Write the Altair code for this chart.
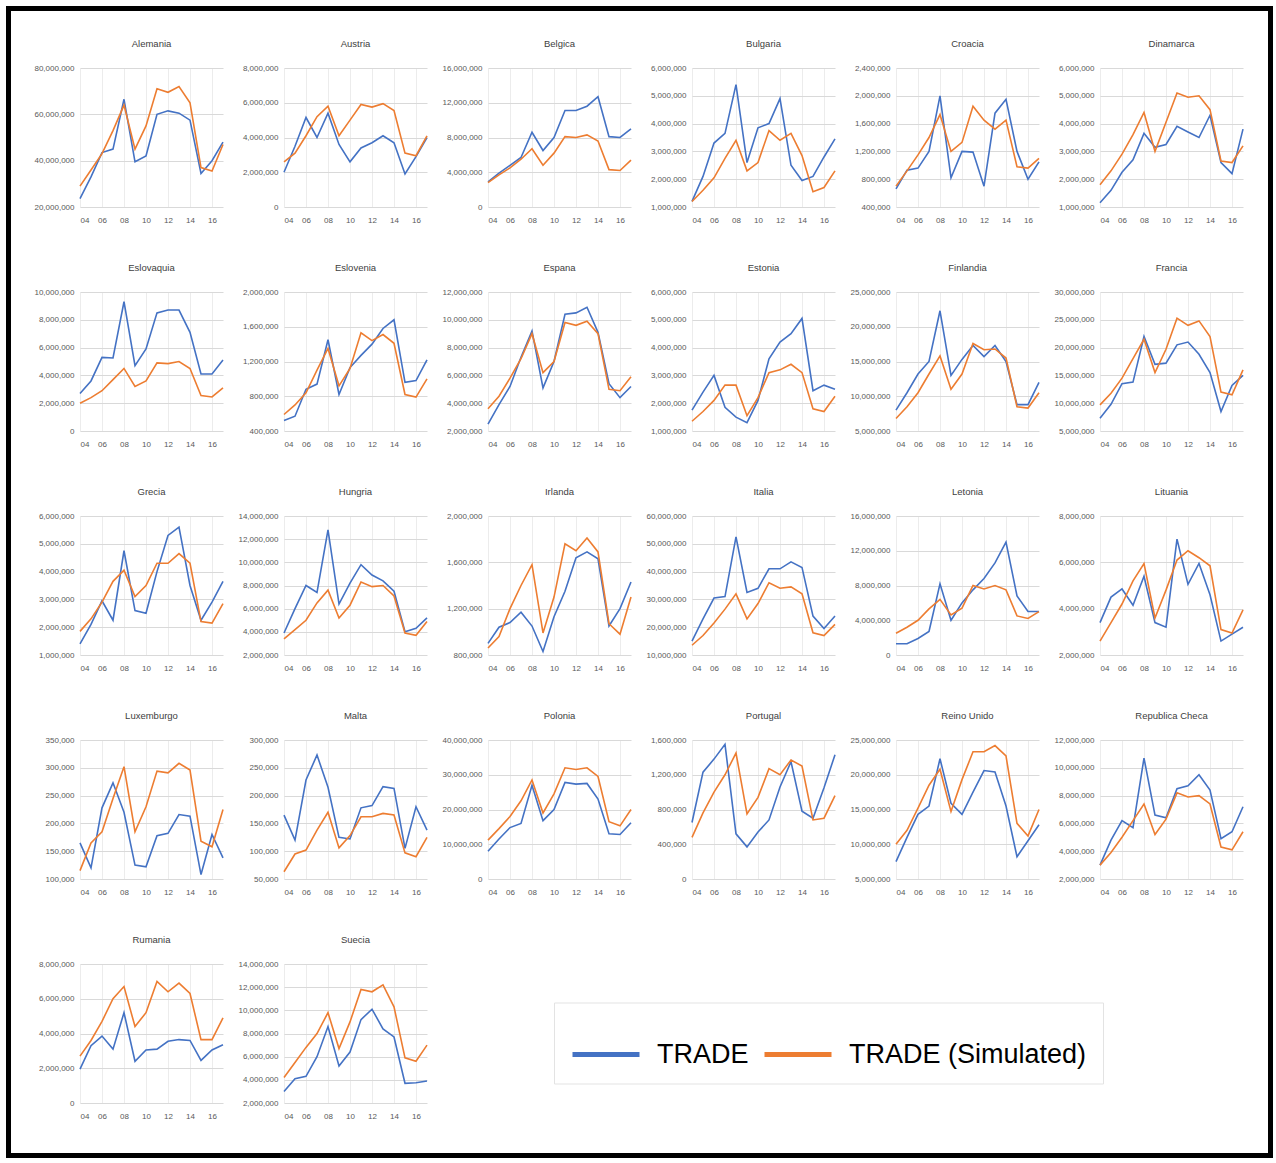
import altair as alt
import pandas as pd

# Years on the x axis (2004-2017) and the two series drawn in every panel
YEARS = list(range(2004, 2018))
SERIES = ["TRADE", "TRADE (Simulated)"]
COLORS = ["#4472C4", "#ED7D31"]
FONT = "Liberation Sans"

# Observed trade and simulated trade per country, 2004-2017
alemania_trade = [23.6e6, 33.0e6, 43.5e6, 45.0e6, 66.5e6, 39.5e6, 42.0e6, 60.0e6, 61.5e6, 60.5e6, 57.5e6, 34.5e6, 40.0e6, 48.0e6]
alemania_sim = [29.0e6, 36.0e6, 43.0e6, 53.0e6, 64.0e6, 45.0e6, 55.0e6, 71.0e6, 69.5e6, 72.0e6, 65.0e6, 37.0e6, 35.5e6, 47.0e6]
austria_trade = [2.0e6, 3.5e6, 5.15e6, 4.0e6, 5.4e6, 3.6e6, 2.6e6, 3.4e6, 3.7e6, 4.1e6, 3.7e6, 1.9e6, 2.9e6, 4.0e6]
austria_sim = [2.6e6, 3.1e6, 4.1e6, 5.2e6, 5.8e6, 4.1e6, 5.0e6, 5.9e6, 5.75e6, 5.95e6, 5.55e6, 3.1e6, 2.95e6, 4.1e6]
belgica_trade = [2.9e6, 3.9e6, 4.8e6, 5.7e6, 8.6e6, 6.5e6, 8.0e6, 11.1e6, 11.1e6, 11.6e6, 12.7e6, 8.1e6, 8.0e6, 9.0e6]
belgica_sim = [2.8e6, 3.7e6, 4.5e6, 5.5e6, 6.7e6, 4.8e6, 6.2e6, 8.1e6, 8.0e6, 8.3e6, 7.6e6, 4.3e6, 4.2e6, 5.4e6]
bulgaria_trade = [1.2e6, 2.1e6, 3.3e6, 3.65e6, 5.4e6, 2.6e6, 3.85e6, 4.0e6, 4.9e6, 2.5e6, 1.95e6, 2.1e6, 2.8e6, 3.45e6]
bulgaria_sim = [1.2e6, 1.6e6, 2.05e6, 2.75e6, 3.4e6, 2.3e6, 2.6e6, 3.75e6, 3.4e6, 3.65e6, 2.85e6, 1.55e6, 1.7e6, 2.3e6]
croacia_trade = [0.66e6, 0.93e6, 0.96e6, 1.2e6, 2.0e6, 0.82e6, 1.2e6, 1.19e6, 0.70e6, 1.75e6, 1.95e6, 1.2e6, 0.80e6, 1.05e6]
croacia_sim = [0.70e6, 0.92e6, 1.15e6, 1.4e6, 1.73e6, 1.2e6, 1.33e6, 1.85e6, 1.65e6, 1.52e6, 1.65e6, 0.98e6, 0.96e6, 1.1e6]
dinamarca_trade = [1.15e6, 1.6e6, 2.25e6, 2.7e6, 3.65e6, 3.15e6, 3.25e6, 3.9e6, 3.7e6, 3.5e6, 4.3e6, 2.6e6, 2.2e6, 3.8e6]
dinamarca_sim = [1.8e6, 2.3e6, 2.9e6, 3.6e6, 4.4e6, 3.0e6, 4.05e6, 5.1e6, 4.95e6, 5.0e6, 4.5e6, 2.65e6, 2.6e6, 3.2e6]
eslovaquia_trade = [2.7e6, 3.6e6, 5.3e6, 5.25e6, 9.3e6, 4.7e6, 5.9e6, 8.5e6, 8.7e6, 8.7e6, 7.1e6, 4.1e6, 4.1e6, 5.1e6]
eslovaquia_sim = [2.0e6, 2.4e6, 2.9e6, 3.7e6, 4.5e6, 3.2e6, 3.6e6, 4.9e6, 4.85e6, 5.0e6, 4.5e6, 2.55e6, 2.45e6, 3.1e6]
eslovenia_trade = [0.52e6, 0.57e6, 0.88e6, 0.94e6, 1.45e6, 0.82e6, 1.13e6, 1.27e6, 1.4e6, 1.58e6, 1.68e6, 0.96e6, 0.98e6, 1.22e6]
eslovenia_sim = [0.59e6, 0.70e6, 0.84e6, 1.1e6, 1.35e6, 0.92e6, 1.12e6, 1.53e6, 1.44e6, 1.51e6, 1.41e6, 0.82e6, 0.79e6, 1.0e6]
espana_trade = [2.5e6, 3.9e6, 5.2e6, 7.3e6, 9.2e6, 5.1e6, 7.0e6, 10.4e6, 10.5e6, 10.9e6, 9.1e6, 5.4e6, 4.4e6, 5.2e6]
espana_sim = [3.6e6, 4.5e6, 5.8e6, 7.2e6, 9.0e6, 6.2e6, 7.0e6, 9.8e6, 9.6e6, 9.9e6, 9.0e6, 5.0e6, 4.9e6, 5.9e6]
estonia_trade = [1.75e6, 2.4e6, 3.0e6, 1.85e6, 1.5e6, 1.3e6, 2.1e6, 3.6e6, 4.2e6, 4.5e6, 5.05e6, 2.45e6, 2.65e6, 2.5e6]
estonia_sim = [1.35e6, 1.7e6, 2.1e6, 2.65e6, 2.65e6, 1.55e6, 2.2e6, 3.1e6, 3.2e6, 3.4e6, 3.1e6, 1.8e6, 1.7e6, 2.25e6]
finlandia_trade = [8.0e6, 10.5e6, 13.2e6, 15.0e6, 22.3e6, 13.0e6, 15.3e6, 17.3e6, 15.7e6, 17.3e6, 15.0e6, 8.8e6, 8.8e6, 12.0e6]
finlandia_sim = [6.8e6, 8.5e6, 10.5e6, 13.2e6, 15.8e6, 11.0e6, 13.2e6, 17.6e6, 16.7e6, 16.8e6, 15.5e6, 8.5e6, 8.3e6, 10.5e6]
francia_trade = [7.3e6, 9.8e6, 13.5e6, 13.8e6, 22.0e6, 17.0e6, 17.2e6, 20.5e6, 21.0e6, 18.8e6, 15.5e6, 8.5e6, 13.2e6, 15.0e6]
francia_sim = [9.7e6, 11.8e6, 14.5e6, 18.0e6, 21.5e6, 15.5e6, 19.7e6, 25.3e6, 24.0e6, 24.8e6, 22.0e6, 12.0e6, 11.5e6, 16.0e6]
grecia_trade = [1.4e6, 2.1e6, 2.95e6, 2.25e6, 4.75e6, 2.6e6, 2.5e6, 4.0e6, 5.3e6, 5.6e6, 3.5e6, 2.25e6, 2.9e6, 3.65e6]
grecia_sim = [1.85e6, 2.3e6, 2.9e6, 3.65e6, 4.05e6, 3.1e6, 3.5e6, 4.3e6, 4.3e6, 4.65e6, 4.3e6, 2.2e6, 2.15e6, 2.85e6]
hungria_trade = [3.9e6, 6.0e6, 8.0e6, 7.4e6, 12.8e6, 6.4e6, 8.2e6, 9.8e6, 8.9e6, 8.4e6, 7.5e6, 4.0e6, 4.3e6, 5.2e6]
hungria_sim = [3.4e6, 4.2e6, 5.0e6, 6.5e6, 7.6e6, 5.2e6, 6.3e6, 8.3e6, 7.9e6, 8.0e6, 7.1e6, 3.9e6, 3.7e6, 4.9e6]
irlanda_trade = [0.90e6, 1.04e6, 1.08e6, 1.17e6, 1.05e6, 0.83e6, 1.13e6, 1.35e6, 1.64e6, 1.69e6, 1.63e6, 1.05e6, 1.2e6, 1.43e6]
irlanda_sim = [0.86e6, 0.96e6, 1.2e6, 1.4e6, 1.58e6, 0.99e6, 1.3e6, 1.76e6, 1.7e6, 1.81e6, 1.69e6, 1.07e6, 0.98e6, 1.3e6]
italia_trade = [15.0e6, 23.0e6, 30.5e6, 31.0e6, 52.5e6, 32.5e6, 34.0e6, 41.0e6, 41.0e6, 43.5e6, 41.5e6, 24.0e6, 19.5e6, 24.0e6]
italia_sim = [13.5e6, 17.0e6, 21.5e6, 26.5e6, 32.0e6, 23.0e6, 28.5e6, 36.0e6, 34.0e6, 34.5e6, 32.0e6, 18.0e6, 17.0e6, 21.0e6]
letonia_trade = [1.3e6, 1.3e6, 1.9e6, 2.7e6, 8.2e6, 4.0e6, 6.0e6, 7.5e6, 8.8e6, 10.6e6, 13.0e6, 6.8e6, 5.0e6, 5.0e6]
letonia_sim = [2.5e6, 3.2e6, 4.0e6, 5.3e6, 6.4e6, 4.6e6, 5.4e6, 8.0e6, 7.6e6, 8.0e6, 7.5e6, 4.5e6, 4.2e6, 5.0e6]
lituania_trade = [3.4e6, 4.5e6, 4.85e6, 4.15e6, 5.4e6, 3.4e6, 3.2e6, 7.0e6, 5.05e6, 5.95e6, 4.6e6, 2.6e6, 2.9e6, 3.2e6]
lituania_sim = [2.6e6, 3.4e6, 4.2e6, 5.2e6, 5.95e6, 3.6e6, 4.8e6, 6.1e6, 6.5e6, 6.2e6, 5.85e6, 3.1e6, 2.95e6, 3.95e6]
luxemburgo_trade = [165e3, 120e3, 228e3, 273e3, 220e3, 125e3, 122e3, 178e3, 182e3, 216e3, 213e3, 108e3, 180e3, 138e3]
luxemburgo_sim = [115e3, 165e3, 185e3, 245e3, 302e3, 185e3, 230e3, 294e3, 291e3, 308e3, 296e3, 168e3, 158e3, 225e3]
malta_trade = [165e3, 120e3, 228e3, 273e3, 215e3, 125e3, 122e3, 178e3, 182e3, 216e3, 213e3, 105e3, 180e3, 138e3]
malta_sim = [63e3, 95e3, 102e3, 138e3, 170e3, 106e3, 128e3, 162e3, 162e3, 168e3, 165e3, 97e3, 90e3, 125e3]
polonia_trade = [8.0e6, 11.5e6, 14.8e6, 16.0e6, 27.0e6, 16.8e6, 20.0e6, 27.8e6, 27.3e6, 27.5e6, 23.0e6, 13.0e6, 12.8e6, 16.2e6]
polonia_sim = [11.2e6, 14.5e6, 18.0e6, 22.5e6, 28.5e6, 19.0e6, 24.5e6, 32.0e6, 31.5e6, 32.0e6, 29.5e6, 16.5e6, 15.3e6, 20.0e6]
portugal_trade = [0.65e6, 1.23e6, 1.38e6, 1.55e6, 0.52e6, 0.37e6, 0.54e6, 0.68e6, 1.06e6, 1.35e6, 0.78e6, 0.70e6, 1.05e6, 1.43e6]
portugal_sim = [0.48e6, 0.76e6, 1.0e6, 1.2e6, 1.45e6, 0.75e6, 0.94e6, 1.27e6, 1.2e6, 1.37e6, 1.3e6, 0.68e6, 0.70e6, 0.96e6]
reino_unido_trade = [7.5e6, 11.0e6, 14.3e6, 15.5e6, 22.3e6, 15.9e6, 14.3e6, 17.5e6, 20.6e6, 20.4e6, 15.5e6, 8.2e6, 10.5e6, 12.8e6]
reino_unido_sim = [10.0e6, 12.0e6, 15.2e6, 18.5e6, 20.8e6, 14.7e6, 19.3e6, 23.3e6, 23.3e6, 24.2e6, 22.7e6, 13.0e6, 11.2e6, 15.0e6]
republica_checa_trade = [3.0e6, 4.8e6, 6.2e6, 5.7e6, 10.7e6, 6.6e6, 6.4e6, 8.5e6, 8.7e6, 9.5e6, 8.4e6, 4.9e6, 5.4e6, 7.2e6]
republica_checa_sim = [3.0e6, 3.9e6, 5.0e6, 6.2e6, 7.4e6, 5.2e6, 6.3e6, 8.2e6, 7.9e6, 8.0e6, 7.4e6, 4.3e6, 4.1e6, 5.4e6]
rumania_trade = [1.95e6, 3.3e6, 3.85e6, 3.1e6, 5.2e6, 2.4e6, 3.05e6, 3.1e6, 3.55e6, 3.65e6, 3.6e6, 2.45e6, 3.05e6, 3.35e6]
rumania_sim = [2.7e6, 3.6e6, 4.7e6, 6.0e6, 6.7e6, 4.4e6, 5.2e6, 7.0e6, 6.4e6, 6.9e6, 6.3e6, 3.65e6, 3.65e6, 4.9e6]
suecia_trade = [3.0e6, 4.1e6, 4.3e6, 6.0e6, 8.6e6, 5.2e6, 6.4e6, 9.2e6, 10.1e6, 8.4e6, 7.7e6, 3.7e6, 3.75e6, 3.9e6]
suecia_sim = [4.2e6, 5.5e6, 6.8e6, 8.0e6, 9.8e6, 6.7e6, 9.0e6, 11.8e6, 11.6e6, 12.2e6, 10.3e6, 5.9e6, 5.6e6, 7.0e6]

# Panel title, the two series and the y-axis tick range (first, last, step)
PANELS = [
    ("Alemania", alemania_trade, alemania_sim, (20e6, 80e6, 20e6)),
    ("Austria", austria_trade, austria_sim, (0, 8e6, 2e6)),
    ("Belgica", belgica_trade, belgica_sim, (0, 16e6, 4e6)),
    ("Bulgaria", bulgaria_trade, bulgaria_sim, (1e6, 6e6, 1e6)),
    ("Croacia", croacia_trade, croacia_sim, (400e3, 2.4e6, 400e3)),
    ("Dinamarca", dinamarca_trade, dinamarca_sim, (1e6, 6e6, 1e6)),
    ("Eslovaquia", eslovaquia_trade, eslovaquia_sim, (0, 10e6, 2e6)),
    ("Eslovenia", eslovenia_trade, eslovenia_sim, (400e3, 2e6, 400e3)),
    ("Espana", espana_trade, espana_sim, (2e6, 12e6, 2e6)),
    ("Estonia", estonia_trade, estonia_sim, (1e6, 6e6, 1e6)),
    ("Finlandia", finlandia_trade, finlandia_sim, (5e6, 25e6, 5e6)),
    ("Francia", francia_trade, francia_sim, (5e6, 30e6, 5e6)),
    ("Grecia", grecia_trade, grecia_sim, (1e6, 6e6, 1e6)),
    ("Hungria", hungria_trade, hungria_sim, (2e6, 14e6, 2e6)),
    ("Irlanda", irlanda_trade, irlanda_sim, (800e3, 2e6, 400e3)),
    ("Italia", italia_trade, italia_sim, (10e6, 60e6, 10e6)),
    ("Letonia", letonia_trade, letonia_sim, (0, 16e6, 4e6)),
    ("Lituania", lituania_trade, lituania_sim, (2e6, 8e6, 2e6)),
    ("Luxemburgo", luxemburgo_trade, luxemburgo_sim, (100e3, 350e3, 50e3)),
    ("Malta", malta_trade, malta_sim, (50e3, 300e3, 50e3)),
    ("Polonia", polonia_trade, polonia_sim, (0, 40e6, 10e6)),
    ("Portugal", portugal_trade, portugal_sim, (0, 1.6e6, 400e3)),
    ("Reino Unido", reino_unido_trade, reino_unido_sim, (5e6, 25e6, 5e6)),
    ("Republica Checa", republica_checa_trade, republica_checa_sim, (2e6, 12e6, 2e6)),
    ("Rumania", rumania_trade, rumania_sim, (0, 8e6, 2e6)),
    ("Suecia", suecia_trade, suecia_sim, (2e6, 14e6, 2e6)),
]

PANEL_W, PANEL_H = 143, 139
COL_GAP, ROW_GAP = 61, 85


def long_table(trade, sim):
    rows = []
    for name, vals in zip(SERIES, (trade, sim)):
        for year, v in zip(YEARS, vals):
            rows.append({"year": year, "value": v, "series": name})
    return pd.DataFrame(rows)


def tick_values(lo, hi, step):
    n = int(round((hi - lo) / step))
    return [lo + i * step for i in range(n + 1)]


def panel(name, trade, sim, ticks):
    lo, hi, step = ticks
    return alt.Chart(long_table(trade, sim)).mark_line(strokeWidth=1.6).encode(
        x=alt.X(
            "year:Q",
            scale=alt.Scale(domain=[YEARS[0], YEARS[-1]], nice=False, zero=False),
            axis=alt.Axis(
                values=YEARS[:-1:2],
                labelExpr="substring(toString(datum.value), 2)",
                title=None,
            ),
        ),
        y=alt.Y(
            "value:Q",
            scale=alt.Scale(domain=[lo, hi], nice=False, zero=False),
            axis=alt.Axis(values=tick_values(lo, hi, step), format=",.0f", title=None),
        ),
        color=alt.Color(
            "series:N",
            scale=alt.Scale(domain=SERIES, range=COLORS),
            legend=alt.Legend(title=None),
        ),
    ).properties(
        width=PANEL_W,
        height=PANEL_H,
        title=alt.TitleParams(name, frame="group", anchor="middle"),
    )


panels = [panel(*p) for p in PANELS]

# Black frame around the whole figure, held by an empty cell next to the
# last panel (row 5, column 3); offsets are relative to that cell's origin
cell_x = 2 * (PANEL_W + COL_GAP)
cell_y = 4 * (PANEL_H + ROW_GAP)
frame = alt.Chart(alt.Data(values=[{"frame": 1}])).mark_rect(
    filled=False, stroke="black", strokeWidth=5
).encode(
    x=alt.value(-71.5 - cell_x), x2=alt.value(1190.5 - cell_x),
    y=alt.value(-59.5 - cell_y), y2=alt.value(1087.5 - cell_y),
).properties(width=PANEL_W, height=PANEL_H)

chart = alt.concat(
    *panels,
    frame,
    columns=6,
    spacing=alt.RowColnumber(row=ROW_GAP, column=COL_GAP),
    bounds="flush",
).resolve_scale(
    x="independent", y="independent"
).properties(
    padding={"left": 5, "top": 5, "right": 0, "bottom": 0},
    background="white",
).configure_view(
    stroke="transparent"
).configure_axis(
    labelFont=FONT,
    labelFontSize=8,
    labelColor="#595959",
    domain=False,
    ticks=False,
    gridColor="#d9d9d9",
    gridWidth=1,
).configure_axisX(
    gridColor="#ececec",
    labelPadding=9,
).configure_axisY(
    labelPadding=6,
).configure_title(
    font=FONT,
    fontSize=9.5,
    fontWeight="normal",
    color="#404040",
    offset=16,
).configure_legend(
    orient="none",
    legendX=474,
    legendY=934.5,
    direction="horizontal",
    symbolType="stroke",
    symbolSize=4489,
    symbolStrokeWidth=5,
    labelFont=FONT,
    labelFontSize=27,
    labelColor="black",
    labelOffset=15,
    labelLimit=400,
    columnPadding=5,
    padding=16,
    strokeColor="#e3e3e3",
)

chart.save("out.html", embed_options={"renderer": "svg", "actions": False})
